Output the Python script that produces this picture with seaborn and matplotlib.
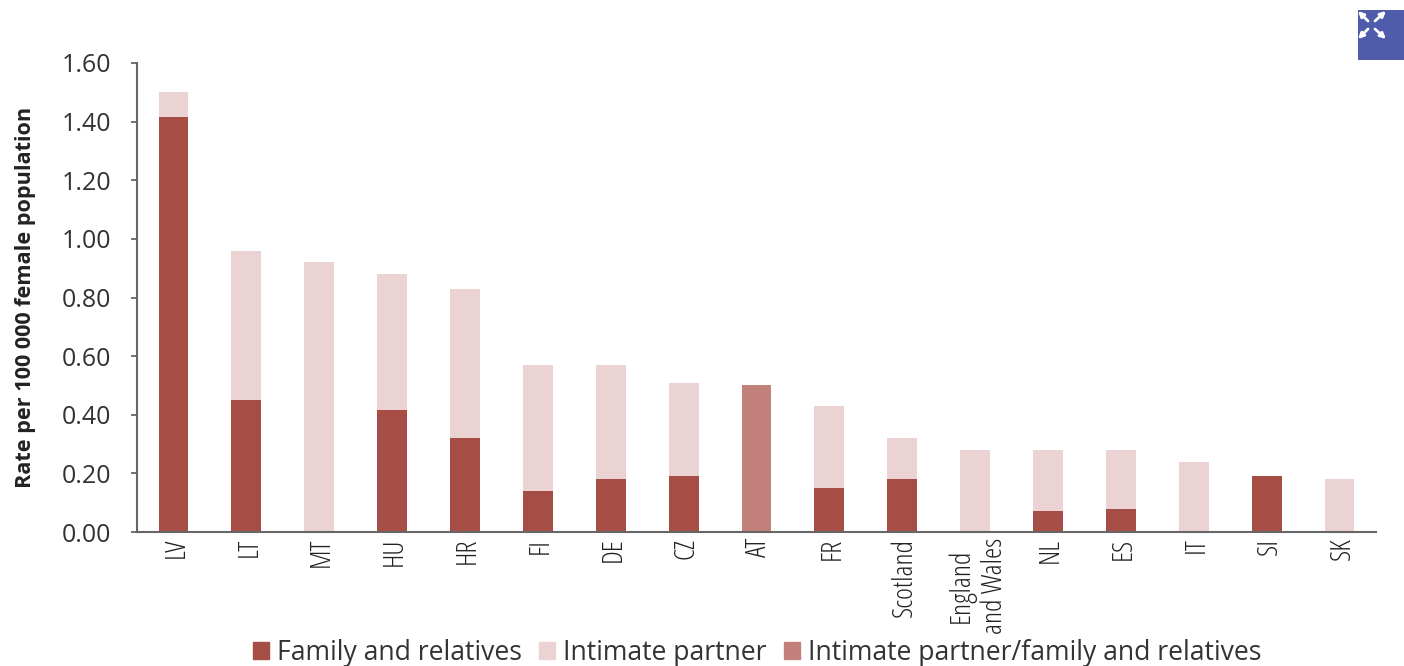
"""Women killed by family, relatives or partners, rate by country."""
import matplotlib
matplotlib.use('Agg')
import matplotlib.pyplot as plt
import pandas as pd
import seaborn as sns
from matplotlib.patches import FancyArrowPatch, Patch, Rectangle
from matplotlib.transforms import ScaledTranslation

countries = ['LV', 'LT', 'MT', 'HU', 'HR', 'FI', 'DE', 'CZ', 'AT', 'FR', 'Scotland',
             'England\nand Wales', 'NL', 'ES', 'IT', 'SI', 'SK']
family = [1.415, 0.45, 0, 0.415, 0.32, 0.14, 0.18, 0.19, 0, 0.15, 0.18, 0, 0.07, 0.08, 0, 0.19, 0]
partner = [0.085, 0.51, 0.92, 0.465, 0.51, 0.43, 0.39, 0.32, 0, 0.28, 0.14, 0.28, 0.21, 0.20, 0.24, 0, 0.18]
mixed = [0, 0, 0, 0, 0, 0, 0, 0, 0.50, 0, 0, 0, 0, 0, 0, 0, 0]
y_ticks = [0, 0.2, 0.4, 0.6, 0.8, 1.0, 1.2, 1.4, 1.6]
legend_labels = ['Family and relatives', 'Intimate partner', 'Intimate partner/family and relatives']

DARK = '#a64d45'
LIGHT = '#ebd2d3'
MID = '#c3817b'
TEXT = '#333333'
AXIS = '#666666'

sns.set_theme(style='white')
plt.rcParams['font.family'] = ['Open Sans', 'DejaVu Sans']

df = pd.DataFrame({'country': countries, 'family': family, 'partner': partner, 'mixed': mixed})
df['total'] = df['family'] + df['partner']

fig = plt.figure(figsize=(14.04, 6.66), dpi=100)
ax = fig.add_axes([137 / 1404, 1 - 532 / 666, (1376 - 137) / 1404, (532 - 63) / 666])

# stacked look: totals first, the lower segment over them
for col, color in [('total', LIGHT), ('family', DARK), ('mixed', MID)]:
    sns.barplot(data=df, x='country', y=col, color=color, width=0.41, saturation=1,
                order=countries, ax=ax, errorbar=None, linewidth=0, edgecolor='none')

ax.set_xlim(-0.5, len(countries) - 0.5)
ax.set_ylim(0, 1.6)
ax.set_yticks(y_ticks)
ax.set_yticklabels([f'{v:.2f}' for v in y_ticks], fontsize=18, color=TEXT)
ax.set_xlabel('')
ax.set_ylabel('Rate per 100 000 female population', fontsize=15.6, fontweight='bold',
              color='#222222')
ax.yaxis.set_label_coords(-(137 - 36) / (1376 - 137), 0.5)

ax.set_xticks(range(len(countries)))
ax.set_xticklabels(countries, rotation=90, fontsize=20.5, color='#222222', family='Open Sans',
                   stretch='condensed', weight='light', linespacing=1.22, va='top', ha='center')
ax.tick_params(axis='x', length=0, pad=4)
ax.tick_params(axis='y', length=4.5, width=1.3, color=AXIS, pad=14, left=True)
# descender room pulls the rotated labels left of their bars
shift = ScaledTranslation(3 / 100, 0, fig.dpi_scale_trans)
for label in ax.get_xticklabels():
    label.set_transform(label.get_transform() + shift)

sns.despine(ax=ax)
for side in ['left', 'bottom']:
    ax.spines[side].set_color(AXIS)
    ax.spines[side].set_linewidth(1.5)

handles = [Patch(color=c) for c in [DARK, LIGHT, MID]]
fig.legend(handles, legend_labels, loc='center', bbox_to_anchor=(757 / 1404, 1 - 653 / 666),
           ncol=3, frameon=False, fontsize=19.1, labelcolor=TEXT, handlelength=0.6,
           handleheight=0.6, handletextpad=0.3, columnspacing=0.65, borderpad=0)

# expand button in the corner
fig.add_artist(Rectangle((1358 / 1404, 1 - 60 / 666), 46 / 1404, 50 / 666,
                         transform=fig.transFigure, color='#4f5bab', lw=0))
for x0, y0, x1, y1 in [(1368, 21, 1358, 11), (1375, 21, 1386, 11), (1368, 29, 1358, 39), (1375, 29, 1386, 39)]:
    fig.add_artist(FancyArrowPatch(
        (x0 / 1404, 1 - y0 / 666), (x1 / 1404, 1 - y1 / 666), transform=fig.transFigure,
        arrowstyle='-|>', mutation_scale=8, color='white', lw=2, shrinkA=0, shrinkB=0))

fig.savefig('out.png', dpi=100)
plt.close()
